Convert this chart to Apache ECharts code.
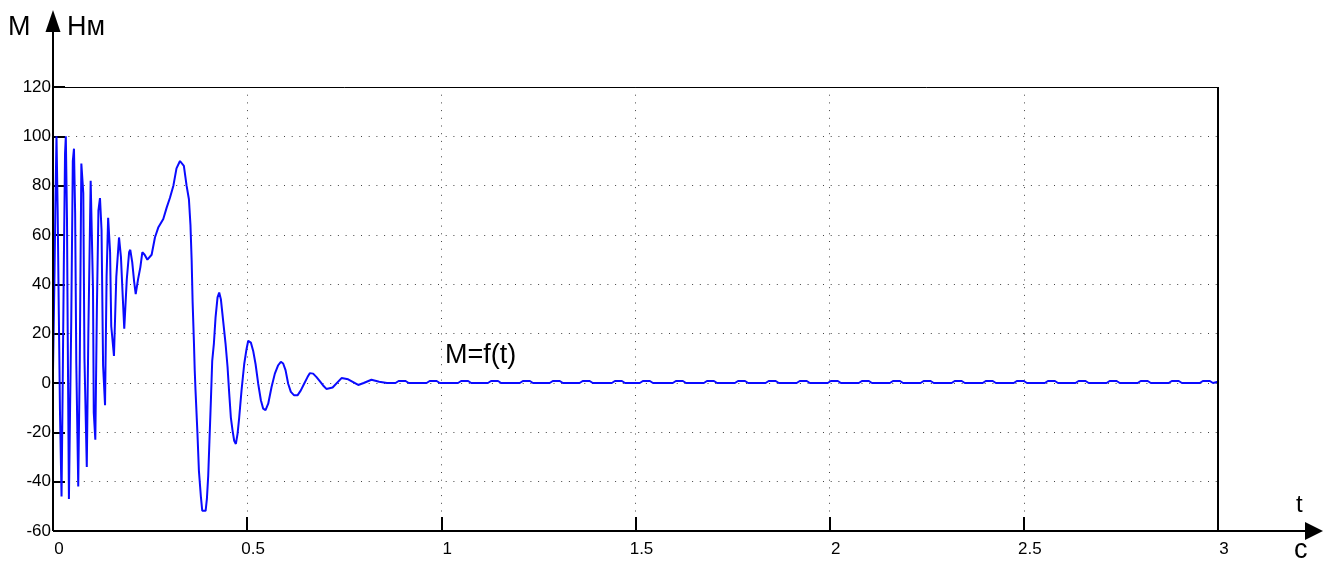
<!DOCTYPE html>
<html>
<head>
<meta charset="utf-8">
<script src="https://cdn.jsdelivr.net/npm/echarts@6/dist/echarts.min.js"></script>
<style>
  html, body { margin: 0; padding: 0; background: #fff; }
  #chart { width: 1323px; height: 562px; }
</style>
</head>
<body>
<div id="chart"></div>
<script>
// ---- data ----
const xTicks = [0, 0.5, 1, 1.5, 2, 2.5, 3];
const yTicks = [-60, -40, -20, 0, 20, 40, 60, 80, 100, 120];

// transient part: time (s)
const transientT = [
  0.000, 0.004, 0.006, 0.009, 0.012, 0.015, 0.018, 0.022, 0.025, 0.028,
  0.031, 0.033, 0.036, 0.038, 0.041, 0.044, 0.047, 0.051, 0.054, 0.057,
  0.060, 0.065, 0.069, 0.073, 0.075, 0.078, 0.081, 0.087, 0.091, 0.097,
  0.100, 0.103, 0.105, 0.109, 0.113, 0.117, 0.121, 0.125, 0.129, 0.134,
  0.138, 0.142, 0.147, 0.150, 0.157, 0.163, 0.170, 0.175, 0.179, 0.1835,
  0.190, 0.196, 0.199, 0.204, 0.209, 0.213, 0.219, 0.225, 0.230, 0.236,
  0.243, 0.254, 0.2625, 0.271, 0.284, 0.2925, 0.301, 0.310, 0.318, 0.327,
  0.331, 0.337, 0.344, 0.350, 0.354, 0.357, 0.3595, 0.363, 0.365, 0.367,
  0.372, 0.3757, 0.381, 0.3843, 0.393, 0.3963, 0.3997, 0.4023, 0.4066, 0.410,
  0.4143, 0.4186, 0.4237, 0.428, 0.4323, 0.4383, 0.4443, 0.4495, 0.4538, 0.458,
  0.4624, 0.4666, 0.4709, 0.4752, 0.4795, 0.4855, 0.4924, 0.4984, 0.5027, 0.5095,
  0.5155, 0.5216, 0.5284, 0.5353, 0.5413, 0.5473, 0.5542, 0.5628, 0.5713, 0.5799,
  0.5867, 0.5927, 0.5988, 0.6056, 0.6125, 0.621, 0.6296, 0.6382, 0.6467, 0.6554,
  0.6613, 0.6699, 0.6786, 0.687, 0.6956, 0.704, 0.720, 0.743, 0.760, 0.786,
  0.800, 0.820, 0.840, 0.860
];
// transient part: torque M (N·m)
const transientM = [
  5, 45, 70, 100, 70, 28, -12, -46, 0, 50,
  93, 100, 67, 18, -47, -10, 25, 90, 95, 69,
  8, -42, 10, 89, 89, 77, 10, -34, 20, 82,
  60, 38, -12, -23, 30, 70, 75, 62, 7, -9,
  43, 67, 53, 23, 11, 43, 59, 51, 37, 22,
  42, 53, 54, 49, 41, 36, 42, 47, 53, 52,
  50, 52, 59, 63, 66.5, 71, 75, 80, 87, 90,
  90.4, 88, 80, 74.5, 64, 50, 33, 16, 5, -3,
  -20.6, -35.5, -46.4, -51.8, -51.8, -47, -37.6, -26, -7, 9,
  16, 26.6, 34.7, 36.7, 34, 25, 16, 6.5, -4.3, -14,
  -19.3, -23.4, -24.7, -20.6, -14, -3, 7.7, 13.8, 17.1, 16.4,
  13, 7.7, -0.3, -7, -10.4, -11, -8.4, -1.6, 3.8, 7.2,
  8.6, 7.9, 5.2, -0.3, -3.6, -5, -5, -3, -0.3, 2.4,
  4, 3.8, 2.4, 0.8, -1, -2.4, -1.8, 2, 1.5, -0.8,
  0, 1.3, 0.5, 0
];

// steady-state ripple: start times of the small bumps (s) and their height
const rippleStarts = [
  0.882, 0.962, 1.043, 1.120, 1.202, 1.279, 1.356, 1.439, 1.511, 1.596,
  1.676, 1.756, 1.835, 1.915, 1.995, 2.075, 2.155, 2.234, 2.314, 2.394,
  2.474, 2.554, 2.633, 2.713, 2.793, 2.873, 2.953
];
const rippleLevel = 0.8;
const endT = 3.0;
const endM = 0.5;

// ---- build the series ----
const seriesData = transientT.map((t, i) => [t, transientM[i]]);
rippleStarts.forEach(s => {
  seriesData.push([s, 0]);
  seriesData.push([s + 0.008, rippleLevel]);
  seriesData.push([Math.min(s + 0.026, endT), rippleLevel]);
  if (s + 0.034 < endT) seriesData.push([s + 0.034, 0]);
});
seriesData.push([endT, endM]);

const FONT = '"Liberation Sans", Arial, sans-serif';
const chart = echarts.init(document.getElementById('chart'), null, { renderer: 'canvas' });

chart.setOption({
  animation: false,
  backgroundColor: '#fff',
  grid: { left: 53, right: 105, top: 87, bottom: 31, containLabel: false },
  xAxis: {
    type: 'value', min: xTicks[0], max: xTicks[xTicks.length - 1], interval: 0.5,
    axisLine: { show: false, onZero: false },
    axisTick: { show: true, inside: true, length: 14, lineStyle: { color: '#000', width: 2 } },
    axisLabel: {
      color: '#000', fontSize: 17, fontFamily: FONT, margin: 10,
      padding: [0, 0, 0, 12],
      formatter: v => String(v)
    },
    splitLine: { show: true, lineStyle: { color: '#444', width: 1, type: [1, 6.7] } }
  },
  yAxis: {
    type: 'value', min: yTicks[0], max: yTicks[yTicks.length - 1], interval: 20,
    axisLine: { show: false, onZero: false },
    axisTick: { show: true, inside: true, length: 12, lineStyle: { color: '#000', width: 2 } },
    axisLabel: { color: '#000', fontSize: 17, fontFamily: FONT, margin: 2 },
    splitLine: { show: true, lineStyle: { color: '#444', width: 1, type: [1, 6.7] } }
  },
  series: [{
    type: 'line',
    data: seriesData,
    showSymbol: false,
    symbol: 'none',
    lineStyle: { color: '#0a0aff', width: 2 },
    z: 3,
    markLine: {
      silent: true,
      symbol: ['none', 'none'],
      label: { show: false },
      data: [
        { xAxis: xTicks[xTicks.length - 1], lineStyle: { color: '#000', width: 2, type: 'solid' } },
        { yAxis: yTicks[yTicks.length - 1], lineStyle: { color: '#000', width: 1, type: 'solid' } }
      ]
    }
  }]
});

function drawDecor() {
  const o = chart.convertToPixel({ gridIndex: 0 }, [0, yTicks[0]]);
  const x0 = Math.round(o[0]), yb = Math.round(o[1]);
  const txt = (text, x, y, size) => ({
    type: 'text', left: x, top: y - size / 2,
    style: { text, fill: '#000', font: size + 'px ' + FONT, textVerticalAlign: 'top' },
    silent: true, z: 10
  });
  chart.setOption({
    graphic: [
      { type: 'line', shape: { x1: x0, y1: yb, x2: x0, y2: 28 }, style: { stroke: '#000', lineWidth: 2 }, z: 9 },
      { type: 'polygon', shape: { points: [[x0, 10], [x0 - 7.5, 32], [x0 + 7.5, 32]] }, style: { fill: '#000' }, z: 9 },
      { type: 'line', shape: { x1: x0, y1: yb, x2: 1308, y2: yb }, style: { stroke: '#000', lineWidth: 2 }, z: 9 },
      { type: 'polygon', shape: { points: [[1323, yb], [1305, yb - 9], [1305, yb + 9]] }, style: { fill: '#000' }, z: 9 },
      txt('M', 8, 28, 27),
      txt('Нм', 67, 28, 27),
      txt('M=f(t)', 445, 356, 27),
      txt('t', 1296, 505, 24),
      txt('с', 1294, 551, 27)
    ]
  });
}
drawDecor();
</script>
</body>
</html>
